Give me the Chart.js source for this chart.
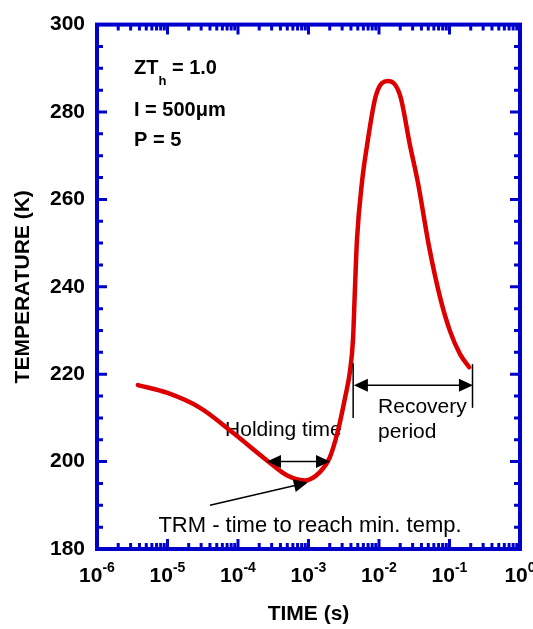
<!DOCTYPE html>
<html>
<head>
<meta charset="utf-8">
<script src="https://cdn.jsdelivr.net/npm/chart.js@4.4.1/dist/chart.umd.min.js"></script>
<style>
  html, body { margin: 0; padding: 0; background: #fff; }
  #wrap { width: 533px; height: 629px; }
</style>
</head>
<body>
<div id="wrap"><canvas id="c"></canvas></div>
<script>
// --- data ---
const timeS = [3.8e-6, 1e-5, 2.9e-5, 8.5e-5, 2.6e-4, 5.0e-4, 8.9e-4, 1.45e-3, 2.0e-3, 2.62e-3,
  3.3e-3, 3.88e-3, 4.28e-3, 4.57e-3, 4.88e-3, 5.74e-3, 6.76e-3, 9.05e-3, 1.34e-2, 1.99e-2,
  2.75e-2, 3.55e-2, 5.2e-2, 7.4e-2, 0.102, 0.141, 0.19];
const tempK = [217.5, 215.7, 212.3, 206.6, 200.2, 196.8, 195.7, 197.6, 200.9, 207.1,
  214.6, 220.7, 228, 240, 251, 264, 272.3, 283.8, 287.1, 283.8,
  272.4, 264, 248.7, 237.4, 229.8, 224.6, 221.6];

const yTicks = [180, 200, 220, 240, 260, 280, 300];
const xDecades = [-6, -5, -4, -3, -2, -1, 0];

// annotations (data coordinates)
const holdArrow = { t1: 2.58e-4, t2: 2.02e-3, T: 200 };
const recArrow = { t1: 4.4e-3, t2: 0.215, T: 217.5 };
const recBars = [{ t: 4.3e-3, T1: 222.5, T2: 210 }, { t: 0.212, T1: 222.3, T2: 212.3 }];
const trmArrow = { t1: 4.0e-5, T1: 190.0, t2: 9.8e-4, T2: 195.2 };
const notes = [
  { text: 'Holding time', t: 6.55e-5, T: 205.9 },
  { text: 'Recovery', t: 9.7e-3, T: 211.2 },
  { text: 'period', t: 9.7e-3, T: 205.5 },
];
const trmNote = { text: 'TRM - time to reach min. temp.', t: 1.05e-3, T: 183.8 };

const BLUE = '#0000cc';
const RED = '#dd0000';
const SANS = '"Liberation Sans", Arial, sans-serif';

function arrowHead(ctx, x, y, ang) {
    const len = 14, hw = 6.5;
    ctx.beginPath();
    ctx.moveTo(x, y);
    ctx.lineTo(x - len * Math.cos(ang) + hw * Math.sin(ang), y - len * Math.sin(ang) - hw * Math.cos(ang));
    ctx.lineTo(x - len * Math.cos(ang) - hw * Math.sin(ang), y - len * Math.sin(ang) + hw * Math.cos(ang));
    ctx.closePath();
    ctx.fill();
}

const decor = {
    id: 'decor',
    beforeDatasetsDraw(chart) {
        const { ctx, chartArea: a, scales: { x, y } } = chart;
        ctx.save();
        ctx.fillStyle = '#000';
        ctx.textBaseline = 'alphabetic';

        // inset text
        ctx.font = 'bold 20px ' + SANS;
        let px = a.left + 37;
        ctx.fillText('ZT', px, a.top + 49);
        px += ctx.measureText('ZT').width;
        ctx.font = 'bold 13px ' + SANS;
        ctx.fillText('h', px, a.top + 60);
        px += ctx.measureText('h').width;
        ctx.font = 'bold 20px ' + SANS;
        ctx.fillText(' = 1.0', px, a.top + 49);
        ctx.fillText('I = 500\u03bcm', a.left + 37, a.top + 91);
        ctx.fillText('P = 5', a.left + 37, a.top + 121);

        // annotation text
        ctx.font = '21px ' + SANS;
        notes.forEach(n => ctx.fillText(n.text, x.getPixelForValue(n.t), y.getPixelForValue(n.T)));
        ctx.font = '22px ' + SANS;
        ctx.textAlign = 'center';
        ctx.fillText(trmNote.text, x.getPixelForValue(trmNote.t), y.getPixelForValue(trmNote.T));
        ctx.restore();
    },
    afterDatasetsDraw(chart) {
        const { ctx, chartArea: a, scales: { x, y } } = chart;
        ctx.save();

        // arrows
        ctx.strokeStyle = '#000';
        ctx.fillStyle = '#000';
        ctx.lineWidth = 1.5;
        const hx1 = x.getPixelForValue(holdArrow.t1), hx2 = x.getPixelForValue(holdArrow.t2);
        const hy = y.getPixelForValue(holdArrow.T);
        ctx.beginPath(); ctx.moveTo(hx1 + 10, hy); ctx.lineTo(hx2 - 10, hy); ctx.stroke();
        arrowHead(ctx, hx1, hy, Math.PI);
        arrowHead(ctx, hx2, hy, 0);

        const rx1 = x.getPixelForValue(recArrow.t1), rx2 = x.getPixelForValue(recArrow.t2);
        const ry = y.getPixelForValue(recArrow.T);
        ctx.beginPath(); ctx.moveTo(rx1 + 10, ry); ctx.lineTo(rx2 - 10, ry); ctx.stroke();
        arrowHead(ctx, rx1, ry, Math.PI);
        arrowHead(ctx, rx2, ry, 0);
        recBars.forEach(b => {
            const bx = x.getPixelForValue(b.t);
            ctx.beginPath();
            ctx.moveTo(bx, y.getPixelForValue(b.T1));
            ctx.lineTo(bx, y.getPixelForValue(b.T2));
            ctx.stroke();
        });

        const tx1 = x.getPixelForValue(trmArrow.t1), ty1 = y.getPixelForValue(trmArrow.T1);
        const tx2 = x.getPixelForValue(trmArrow.t2), ty2 = y.getPixelForValue(trmArrow.T2);
        const ang = Math.atan2(ty2 - ty1, tx2 - tx1);
        ctx.beginPath(); ctx.moveTo(tx1, ty1);
        ctx.lineTo(tx2 - 10 * Math.cos(ang), ty2 - 10 * Math.sin(ang)); ctx.stroke();
        arrowHead(ctx, tx2, ty2, ang);

        // frame + inward ticks
        ctx.strokeStyle = BLUE;
        ctx.lineWidth = 3;
        ctx.lineCap = 'butt';
        for (let v = 180; v <= 300; v += 5) {
            const py = y.getPixelForValue(v);
            const len = v % 20 === 0 ? 10 : 6;
            ctx.beginPath();
            ctx.moveTo(a.left, py); ctx.lineTo(a.left + len, py);
            ctx.moveTo(a.right, py); ctx.lineTo(a.right - len, py);
            ctx.stroke();
        }
        xDecades.forEach(d => {
            for (let m = 1; m <= 9; m++) {
                const v = m * Math.pow(10, d);
                if (v > 1.0000001) break;
                const pxv = x.getPixelForValue(v);
                const len = m === 1 ? 10 : 6;
                ctx.beginPath();
                ctx.moveTo(pxv, a.bottom); ctx.lineTo(pxv, a.bottom - len);
                ctx.moveTo(pxv, a.top); ctx.lineTo(pxv, a.top + len);
                ctx.stroke();
            }
        });
        ctx.lineWidth = 4;
        ctx.strokeRect(a.left, a.top, a.right - a.left, a.bottom - a.top);

        // x tick labels 10^n
        ctx.fillStyle = '#000';
        ctx.textAlign = 'left';
        ctx.textBaseline = 'alphabetic';
        xDecades.forEach(d => {
            const pxv = x.getPixelForValue(Math.pow(10, d));
            ctx.font = 'bold 21px ' + SANS;
            const wb = ctx.measureText('10').width;
            ctx.font = 'bold 14px ' + SANS;
            const es = String(d);
            const we = ctx.measureText(es).width;
            const x0 = pxv - (wb + we) / 2;
            ctx.font = 'bold 21px ' + SANS;
            ctx.fillText('10', x0, a.bottom + 33);
            ctx.font = 'bold 14px ' + SANS;
            ctx.fillText(es, x0 + wb, a.bottom + 23);
        });
        ctx.restore();
    }
};

new Chart(document.getElementById('c'), {
    type: 'line',
    data: {
        datasets: [{
            data: timeS.map((t, i) => ({ x: t, y: tempK[i] })),
            borderColor: RED,
            borderWidth: 4.5,
            pointRadius: 0,
            fill: false,
            cubicInterpolationMode: 'monotone',
            borderCapStyle: 'round',
            borderJoinStyle: 'round'
        }]
    },
    options: {
        responsive: true,
        maintainAspectRatio: false,
        animation: false,
        layout: { padding: { top: 22, right: 13, left: 0, bottom: 0 } },
        plugins: { legend: { display: false }, tooltip: { enabled: false } },
        scales: {
            x: {
                type: 'logarithmic',
                min: 1e-6,
                max: 1,
                grid: { display: false, drawTicks: false },
                border: { display: false },
                ticks: { display: false },
                title: {
                    display: true, text: 'TIME (s)', color: '#000',
                    font: { family: SANS, size: 21, weight: 'bold' },
                    padding: { top: 0, bottom: 2 }
                },
                afterFit(s) { s.height = 80; }
            },
            y: {
                min: 180,
                max: 300,
                afterBuildTicks(s) { s.ticks = yTicks.map(v => ({ value: v })); },
                grid: { display: false, drawTicks: false },
                border: { display: false },
                ticks: {
                    color: '#000', padding: 12,
                    font: { family: SANS, size: 21, weight: 'bold' }
                },
                title: {
                    display: true, text: 'TEMPERATURE (K)', color: '#000',
                    font: { family: SANS, size: 21, weight: 'bold' },
                    padding: { top: 11, bottom: 0 }
                },
                afterFit(s) { s.width = 97; }
            }
        }
    },
    plugins: [decor]
});
</script>
</body>
</html>
